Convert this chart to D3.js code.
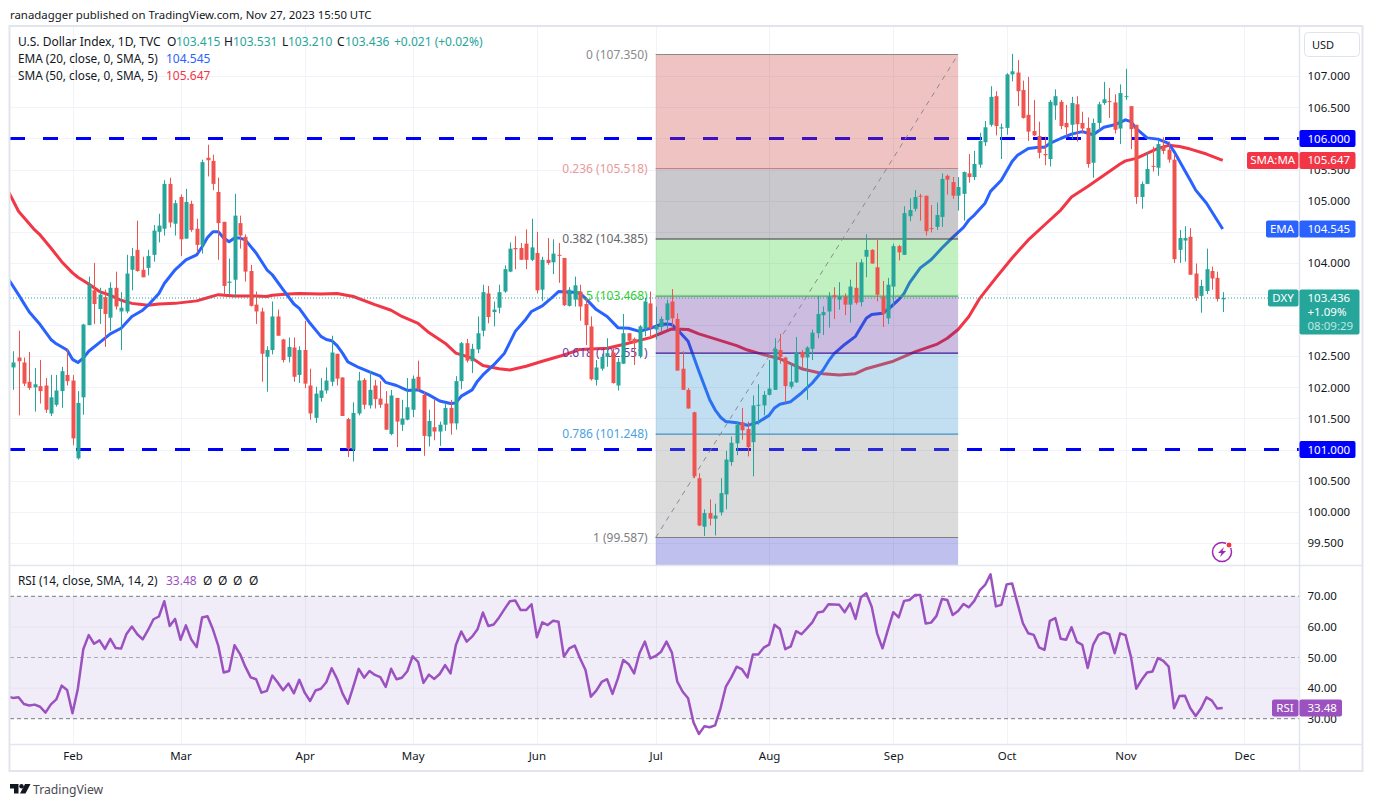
<!DOCTYPE html>
<html>
<head>
<meta charset="utf-8">
<title>DXY</title>
<script src="https://cdn.jsdelivr.net/npm/d3@7"></script>
<style>
    body { margin: 0; background: #fff; }
    text { font-family: "Noto Sans", sans-serif; font-size: 12px; fill: #131722; }
    .axis path, .axis line { display: none; }
    .axis text, .tag-text { font-size: 11.5px; }
</style>
</head>
<body>
<svg id="chart" width="1373" height="807"></svg>
<script>
// Daily candles, Jan 17 to Nov 27 2023
const opens = [
    102.32,102.48,102.40,102.09,102.00,102.02,102.03,101.58,101.72,101.94,
    102.20,102.11,100.86,101.84,103.00,103.56,103.26,103.45,103.12,103.60,
    103.22,103.22,103.89,104.21,103.89,103.92,104.13,104.50,104.55,105.27,
    104.63,105.06,104.39,104.95,104.55,104.29,105.69,105.64,105.14,104.66,
    103.68,103.73,104.64,104.42,103.87,103.33,103.22,102.49,102.60,103.14,
    102.77,102.49,102.64,102.20,102.60,102.03,101.51,101.83,101.95,102.09,
    102.54,102.16,101.49,101.00,101.58,102.12,101.71,102.03,101.82,101.74,
    101.25,101.83,101.40,101.48,101.64,102.17,101.88,101.21,101.36,101.29,
    101.40,101.67,101.42,102.10,102.71,102.42,102.61,102.91,103.51,103.21,
    103.28,103.54,103.86,104.24,104.24,104.31,104.05,104.16,103.57,104.05,
    104.01,104.13,104.08,103.31,103.41,103.54,103.34,102.98,102.12,102.30,
    102.49,102.56,102.03,102.38,102.87,102.78,102.50,102.94,103.35,102.93,
    102.97,103.08,103.38,103.10,102.30,101.96,101.60,100.54,99.76,99.98,
    99.89,99.99,100.28,100.80,101.10,101.44,101.33,101.12,101.71,101.71,
    101.88,101.96,102.60,102.48,102.01,102.08,102.57,102.48,102.62,102.87,
    103.16,103.22,103.48,103.41,103.46,103.33,103.60,103.37,104.10,104.21,
    103.93,103.46,103.11,103.62,104.27,104.13,104.75,104.87,105.08,105.08,
    104.56,104.58,104.74,105.40,105.30,105.08,105.11,105.44,105.38,105.58,
    105.94,106.22,106.68,106.16,106.17,107.03,107.06,106.78,106.38,106.12,
    106.04,105.75,105.67,106.53,106.59,106.25,106.22,106.55,106.25,106.17,
    105.61,106.25,106.57,106.60,106.58,106.16,106.67,106.52,106.22,105.06,
    105.27,105.56,105.53,105.87,105.82,105.66,104.21,104.36,104.42,103.83,
    103.47,103.55,103.87,103.76,103.415
];
const highs = [
    102.58,102.91,102.48,102.57,102.31,102.44,102.15,102.20,102.20,102.33,
    102.62,102.20,101.94,103.02,103.78,104.00,103.60,103.57,103.69,103.86,
    103.53,104.13,104.24,104.68,104.10,104.21,104.61,104.79,105.33,105.37,
    105.01,105.10,105.19,105.00,104.71,105.66,105.90,105.74,105.37,104.66,
    104.07,105.11,104.76,104.46,103.97,103.54,103.28,102.66,103.38,103.25,
    102.78,102.80,102.80,102.66,103.07,102.30,102.01,102.15,102.32,102.83,
    102.54,102.16,101.51,101.76,102.25,102.15,102.26,102.12,102.10,101.94,
    101.96,101.83,101.80,102.15,102.19,102.43,101.94,101.64,101.80,101.45,
    101.75,101.80,102.18,102.73,102.78,102.70,103.14,103.65,103.63,103.38,
    103.65,103.96,104.33,104.43,104.32,104.54,104.71,104.50,104.10,104.40,
    104.38,104.32,104.08,103.61,103.78,103.65,103.43,103.14,102.44,102.54,
    102.79,102.63,102.47,103.18,102.87,102.80,103.00,103.44,103.54,103.30,
    103.14,103.41,103.58,103.19,102.58,101.99,101.61,100.62,100.04,100.20,
    100.13,100.54,100.98,101.21,101.45,101.67,101.45,101.87,102.05,101.94,
    102.44,102.79,102.86,102.49,102.39,102.81,102.60,102.66,102.93,103.47,
    103.30,103.53,103.61,103.69,103.51,103.73,104.01,104.06,104.46,104.22,
    104.37,103.71,103.76,104.31,104.29,104.91,105.04,105.17,105.11,105.08,
    104.93,104.97,105.44,105.42,105.38,105.38,105.47,105.75,105.80,106.09,
    106.28,106.84,106.76,106.24,107.05,107.36,107.26,106.93,106.99,106.62,
    106.27,106.03,106.62,106.79,106.62,106.54,106.67,106.68,106.43,106.34,
    106.32,106.59,106.91,106.81,106.71,106.87,107.12,106.52,106.22,105.31,
    105.78,105.87,105.98,106.02,105.95,105.75,104.53,104.59,104.56,103.99,
    103.73,104.23,103.94,103.86,103.531
];
const lows = [
    101.96,101.55,102.02,101.96,101.61,101.74,101.59,101.54,101.69,101.67,
    102.03,101.07,100.84,101.56,103.00,103.02,103.02,102.65,102.91,103.25,
    102.60,103.19,103.56,103.86,103.77,103.80,104.02,104.33,104.44,104.57,
    104.44,104.11,104.39,104.50,104.16,104.15,105.39,105.17,104.05,103.49,
    103.49,103.46,104.23,103.70,103.30,103.02,102.09,101.93,102.53,102.83,
    102.40,102.40,102.09,102.07,101.99,101.48,101.43,101.77,101.90,102.02,
    102.03,101.54,100.88,100.81,101.55,101.65,101.66,101.66,101.67,101.32,
    101.23,101.04,101.30,101.47,101.52,101.94,100.90,101.05,101.15,101.06,
    101.30,101.24,101.32,101.97,102.40,102.23,102.55,102.82,103.03,102.98,
    103.19,103.52,103.85,103.90,104.05,103.90,104.03,103.51,103.39,103.97,
    103.82,103.68,103.31,103.30,103.30,103.07,102.68,102.11,102.03,102.27,
    102.33,102.06,101.95,102.38,102.72,102.36,102.47,102.82,102.79,102.77,
    102.90,102.94,102.98,102.27,101.96,101.66,100.54,99.77,99.61,99.78,
    99.62,99.94,100.04,100.74,100.91,101.16,100.89,100.57,101.40,101.55,
    101.87,101.96,102.38,101.76,101.98,102.07,102.31,101.80,102.44,102.79,
    102.84,102.96,103.10,103.25,103.16,103.04,103.33,103.30,103.77,103.99,
    103.38,102.97,103.02,103.30,104.04,104.13,104.67,104.83,104.68,104.44,
    104.49,104.53,104.58,105.10,105.03,104.84,104.68,105.29,105.33,105.53,
    105.88,106.19,106.05,105.67,106.06,106.92,106.52,106.32,105.96,106.04,
    105.68,105.57,105.55,106.30,106.15,106.03,105.99,105.95,106.08,105.53,
    105.37,106.13,106.54,106.33,106.08,105.91,106.62,105.83,104.95,104.87,
    105.27,105.47,105.40,105.75,105.61,104.00,104.00,104.02,103.81,103.39,
    103.20,103.50,103.57,103.38,103.21
];
const closes = [
    102.40,102.42,102.06,101.99,102.05,101.94,101.64,101.84,101.95,102.26,
    102.10,101.18,101.75,103.01,103.65,103.34,103.49,103.18,103.60,103.30,
    103.28,103.83,104.11,103.87,103.77,104.11,104.52,104.60,105.27,104.65,
    104.96,104.38,104.98,104.53,104.29,105.62,105.65,105.27,104.64,103.63,
    103.70,104.76,104.44,103.86,103.31,103.22,102.54,102.60,103.14,102.83,
    102.44,102.65,102.17,102.60,102.06,101.58,101.90,101.95,102.11,102.56,
    102.14,101.54,101.01,101.59,102.11,101.72,101.96,101.81,101.72,101.32,
    101.87,101.45,101.50,101.68,102.14,101.97,101.22,101.46,101.29,101.40,
    101.67,101.42,102.10,102.71,102.43,102.62,102.87,103.53,103.13,103.25,
    103.53,103.90,104.23,104.22,104.05,104.05,104.25,103.56,104.05,104.00,
    104.15,104.12,103.32,103.57,103.64,103.30,103.00,102.13,102.32,102.49,
    102.55,102.07,102.41,102.87,102.75,102.71,102.98,103.38,102.95,102.99,
    103.10,103.35,103.11,102.27,101.96,101.66,100.57,99.78,99.98,99.89,
    99.94,100.30,100.84,101.11,101.40,101.31,101.04,101.71,101.72,101.88,
    101.98,102.62,102.49,102.02,102.09,102.56,102.48,102.64,102.88,103.18,
    103.21,103.46,103.45,103.46,103.33,103.62,103.36,104.01,104.21,103.99,
    103.49,103.18,103.65,104.27,104.17,104.80,104.85,105.06,105.07,104.51,
    104.55,104.77,105.35,105.34,105.08,105.22,105.46,105.38,105.59,105.96,
    106.18,106.67,106.20,106.18,107.03,107.08,106.76,106.33,106.11,106.05,
    105.77,105.73,106.59,106.68,106.20,106.18,106.57,106.23,106.16,105.59,
    106.25,106.55,106.63,106.59,106.14,106.73,106.68,106.15,105.06,105.27,
    105.51,105.55,105.91,105.80,105.66,104.06,104.40,104.40,103.81,103.44,
    103.63,103.90,103.75,103.42,103.436
];

// EMA 20 at these candle numbers
const emaIdx = [-1,1,2,3,5,7,8,10,11,12,13,14,16,18,20,22,24,25,27,28,30,32,34,35,36,37,38,39,40,41,42,43,45,47,48,50,52,53,55,57,58,59,60,
    61,62,64,66,68,69,71,73,75,77,79,81,82,83,85,86,87,89,91,93,95,96,98,100,101,103,104,105,106,108,110,112,114,116,
    118,120,121,122,123,125,126,127,129,130,131,132,134,136,138,140,141,142,144,146,148,150,151,152,154,156,158,159,161,162,164,165,166,168,170,172,
    174,176,177,178,180,181,183,185,186,188,190,191,192,194,196,198,200,202,204,206,207,208,210,212,214,215,217,218,219,221,224];
const emaVal = [103.76,103.49,103.35,103.21,103.01,102.77,102.70,102.60,102.45,102.40,102.47,102.58,102.72,102.86,102.95,103.14,103.24,103.32,103.51,103.67,103.89,104.05,104.13,104.26,104.41,104.50,104.50,104.40,104.34,104.40,104.40,104.37,104.16,103.89,103.81,103.57,103.34,103.27,103.03,102.82,102.77,102.75,102.67,
    102.55,102.41,102.32,102.25,102.18,102.08,102.03,101.95,101.96,101.88,101.78,101.74,101.75,101.86,101.96,102.10,102.20,102.36,102.55,102.90,103.10,103.22,103.31,103.46,103.54,103.53,103.53,103.51,103.43,103.25,103.14,102.96,102.95,102.90,
    102.95,103.01,103.02,103.01,102.93,102.74,102.50,102.26,101.80,101.64,101.52,101.45,101.43,101.39,101.44,101.55,101.67,101.73,101.77,101.91,102.07,102.28,102.42,102.54,102.69,102.82,103.11,103.17,103.19,103.25,103.41,103.51,103.68,103.92,104.05,104.24,
    104.41,104.57,104.69,104.77,104.96,105.15,105.33,105.63,105.73,105.84,105.86,105.86,105.92,106.00,106.07,106.11,106.06,106.18,106.22,106.30,106.27,106.16,106.01,105.99,105.92,105.79,105.48,105.33,105.17,104.96,104.545];

// SMA 50, read the same way
const smaIdx = [-1,1,2,4,5,7,9,11,12,14,16,18,20,22,25,27,30,34,36,38,41,44,47,48,51,53,57,60,
    63,67,70,72,75,77,80,82,85,87,90,92,95,98,102,105,110,113,
    118,120,122,125,127,130,134,136,138,142,146,150,153,156,158,163,167,171,173,
    175,177,179,182,185,188,191,194,196,199,202,205,206,208,210,212,214,216,218,221,224];
const smaVal = [105.17,104.83,104.73,104.53,104.45,104.24,104.02,103.84,103.77,103.66,103.54,103.48,103.40,103.35,103.32,103.34,103.35,103.39,103.44,103.49,103.47,103.47,103.46,103.48,103.50,103.51,103.50,103.51,
    103.46,103.33,103.24,103.14,103.03,102.88,102.71,102.55,102.47,102.35,102.30,102.28,102.34,102.42,102.52,102.61,102.63,102.69,
    102.80,102.87,102.94,102.93,102.86,102.78,102.67,102.60,102.55,102.46,102.30,102.22,102.20,102.22,102.30,102.42,102.57,102.69,102.79,
    102.93,103.14,103.43,103.76,104.08,104.37,104.61,104.85,105.06,105.23,105.41,105.59,105.64,105.68,105.76,105.84,105.89,105.87,105.83,105.75,105.647];

// RSI 14, starts one candle left of the first visible candle
const rsiVal = [37.2,
    36.8,37.0,34.8,34.3,34.6,33.9,32.0,34.7,36.3,40.8,
    39.4,31.8,39.9,52.7,57.3,54.5,55.6,52.8,56.1,53.1,
    52.9,57.7,60.1,57.6,55.9,59.0,62.5,63.4,68.4,60.3,
    62.6,55.8,60.5,55.9,53.4,63.1,63.5,59.2,53.8,45.1,
    45.6,54.0,51.2,47.0,43.5,42.9,38.5,39.1,44.1,41.8,
    39.3,41.5,38.3,42.7,38.5,35.8,39.2,39.8,41.9,46.5,
    43.0,38.3,34.9,40.5,46.3,43.4,45.6,44.3,43.6,40.4,
    46.3,42.9,43.4,45.5,50.4,48.6,41.7,44.4,43.0,44.6,
    47.5,44.8,54.1,58.5,55.2,56.8,59.2,64.7,60.3,60.8,
    63.1,65.8,68.4,68.6,65.5,65.5,67.4,56.6,61.5,60.6,
    62.0,61.7,50.3,53.0,53.9,49.7,45.9,37.2,39.2,42.0,
    42.9,38.1,43.2,49.2,47.8,44.8,51.4,55.2,49.7,50.5,
    51.9,55.2,51.6,42.1,38.8,36.7,28.8,25.0,27.5,27.2,
    27.8,33.4,40.5,43.5,47.0,46.1,43.5,51.0,51.0,53.2,
    54.2,60.7,59.3,52.7,53.6,58.6,57.6,59.5,61.5,64.7,
    65.0,67.4,67.3,67.2,64.8,67.7,62.6,69.7,71.0,66.6,
    57.9,53.0,59.0,64.8,63.1,68.5,68.8,70.4,70.4,61.1,
    61.4,63.6,69.1,68.8,63.9,65.2,67.5,66.4,68.5,71.9,
    73.7,77.2,66.7,67.2,73.9,74.2,67.7,61.2,57.9,57.4,
    53.3,52.5,62.0,62.9,56.1,55.8,59.9,55.1,54.1,46.6,
    54.1,57.4,58.2,57.6,51.4,57.9,57.3,50.3,39.8,42.7,
    45.1,45.4,49.8,48.9,47.0,33.4,37.4,37.5,33.4,30.9,
    33.4,37.0,35.9,33.3,33.48
];

// Axis ticks. Grid uses all of them, labels skip the ones under the price tags
const priceTicks = [107,106.5,106,105.5,105,104.5,104,103.5,103,102.5,102,101.5,101,100.5,100,99.5];
const priceLabels = [107,106.5,105.5,105,104,102.5,102,101.5,100.5,100,99.5];
const rsiTicks = [70,60,50,40,30];
const monthIdx = [11,31,54,74,97,119,140,163,184,206,228];
const monthLabels = ['Feb','Mar','Apr','May','Jun','Jul','Aug','Sep','Oct','Nov','Dec'];

// Fibonacci retracement
const fibPrices = [107.35,105.518,104.385,103.468,102.551,101.248,99.587];
const fibLabels = ['0 (107.350)','0.236 (105.518)','0.382 (104.385)','0.5 (103.468)','0.618 (102.551)','0.786 (101.248)','1 (99.587)'];
const fibFills = ['rgb(206,56,56)','rgb(75,72,88)','rgb(50,205,50)','rgb(82,32,152)','rgb(52,148,212)','rgb(135,135,135)','rgb(45,45,198)'];
const fibLines = ['#8a8a8a','#d47a7a','#3a3a44','#4caf50','#3f1a96','#3d94c4','#808080'];
const fibText = ['#8a8a8a','#e89a9a','#666','#2fd02f','#6a3aa8','#4aa3df','#808080'];
const fibFirst = 119, fibLast = 175;
const fibBottomPrice = 94.79; // next level down, cut off by the pane

const hLevels = [106,101];
const lastClose = 103.436, lastEma = 104.545, lastSma = 105.647, lastRsi = 33.48;

const up = '#26a69a', down = '#ef5350', emaColor = '#2962ff', smaColor = '#f23645', rsiColor = '#9b51bf';
const gridColor = '#f0f3fa', borderColor = '#e3e5ee';

// Layout
const paneLeft = 10, paneRight = 1299.5, paneTop = 27, paneBottom = 565, rsiBottom = 744, frameBottom = 771, outerRight = 1363;

const xScale = d3.scaleLinear().domain([0, 224]).range([13.1, 1222.7]);
const yScale = d3.scaleLinear().domain([107.35, 99.587]).range([54.5, 537.5]);
const rsiScale = d3.scaleLinear().domain([70, 30]).range([596.3, 718.7]);

const svg = d3.select('#chart');

svg.append('clipPath').attr('id', 'main-clip').append('rect')
    .attr('x', paneLeft).attr('y', paneTop).attr('width', paneRight - paneLeft).attr('height', paneBottom - paneTop);
svg.append('clipPath').attr('id', 'rsi-clip').append('rect')
    .attr('x', paneLeft).attr('y', paneBottom).attr('width', paneRight - paneLeft).attr('height', rsiBottom - paneBottom);

// Grid
const grid = svg.append('g').attr('stroke', gridColor).attr('stroke-width', 1);
grid.selectAll('.gy').data(priceTicks).enter().append('line')
    .attr('x1', paneLeft).attr('x2', paneRight)
    .attr('y1', d => Math.round(yScale(d)) + 0.5).attr('y2', d => Math.round(yScale(d)) + 0.5);
grid.selectAll('.gx').data(monthIdx).enter().append('line')
    .attr('x1', d => Math.round(xScale(d)) + 0.5).attr('x2', d => Math.round(xScale(d)) + 0.5)
    .attr('y1', paneTop).attr('y2', rsiBottom);

const main = svg.append('g').attr('clip-path', 'url(#main-clip)');

// Horizontal support and resistance lines
main.selectAll('.hline').data(hLevels).enter().append('line')
    .attr('x1', paneLeft).attr('x2', paneRight)
    .attr('y1', d => yScale(d)).attr('y2', d => yScale(d))
    .attr('stroke', '#0000ff').attr('stroke-width', 3).attr('stroke-dasharray', '15 18');

// Moving averages
const lineFn = d3.line().x(d => xScale(d[0])).y(d => yScale(d[1]));
main.append('path').attr('d', lineFn(smaIdx.map((d, i) => [d, smaVal[i]])))
    .attr('fill', 'none').attr('stroke', smaColor).attr('stroke-width', 3).attr('stroke-linejoin', 'round');
main.append('path').attr('d', lineFn(emaIdx.map((d, i) => [d, emaVal[i]])))
    .attr('fill', 'none').attr('stroke', emaColor).attr('stroke-width', 3).attr('stroke-linejoin', 'round');

// Fib zones go over the averages but under the candles
const fibEdges = fibPrices.concat([fibBottomPrice]);
main.selectAll('.fib-zone').data(fibFills).enter().append('rect')
    .attr('x', xScale(fibFirst)).attr('width', xScale(fibLast) - xScale(fibFirst))
    .attr('y', (d, i) => yScale(fibEdges[i]))
    .attr('height', (d, i) => yScale(fibEdges[i + 1]) - yScale(fibEdges[i]))
    .attr('fill', d => d).attr('fill-opacity', 0.3);
main.selectAll('.fib-line').data(fibPrices).enter().append('line')
    .attr('x1', xScale(fibFirst)).attr('x2', xScale(fibLast))
    .attr('y1', d => yScale(d)).attr('y2', d => yScale(d))
    .attr('stroke', (d, i) => fibLines[i]).attr('stroke-width', 1.2);
main.append('line')
    .attr('x1', xScale(fibFirst)).attr('y1', yScale(fibPrices[6]))
    .attr('x2', xScale(fibLast)).attr('y2', yScale(fibPrices[0]))
    .attr('stroke', '#8a8a90').attr('stroke-dasharray', '5 5');
main.selectAll('.fib-label').data(fibLabels).enter().append('text')
    .attr('x', xScale(fibFirst) - 8)
    .attr('y', (d, i) => yScale(fibPrices[i]))
    .attr('dy', '0.35em').attr('text-anchor', 'end')
    .style('fill', (d, i) => fibText[i])
    .text(d => d);

// Candles
const candles = main.selectAll('.candle').data(closes).enter().append('g').attr('class', 'candle');
const candleColor = (d, i) => d >= opens[i] ? up : down;
candles.append('line')
    .attr('x1', (d, i) => Math.round(xScale(i)) + 0.5).attr('x2', (d, i) => Math.round(xScale(i)) + 0.5)
    .attr('y1', (d, i) => yScale(highs[i])).attr('y2', (d, i) => yScale(lows[i]))
    .attr('stroke', candleColor);
candles.append('rect')
    .attr('x', (d, i) => Math.round(xScale(i)) - 1.5).attr('width', 4)
    .attr('y', (d, i) => yScale(Math.max(d, opens[i])))
    .attr('height', (d, i) => Math.max(1, Math.abs(yScale(d) - yScale(opens[i]))))
    .attr('fill', candleColor);

// Last price dotted line
main.append('line')
    .attr('x1', paneLeft).attr('x2', paneRight)
    .attr('y1', yScale(lastClose)).attr('y2', yScale(lastClose))
    .attr('stroke', up).attr('stroke-dasharray', '1 2');

// RSI pane
const rsiPane = svg.append('g').attr('clip-path', 'url(#rsi-clip)');
rsiPane.append('rect')
    .attr('x', paneLeft).attr('width', paneRight - paneLeft)
    .attr('y', rsiScale(70)).attr('height', rsiScale(30) - rsiScale(70))
    .attr('fill', '#7e57c2').attr('fill-opacity', 0.11);
rsiPane.selectAll('.rsi-grid').data([60, 40]).enter().append('line')
    .attr('x1', paneLeft).attr('x2', paneRight)
    .attr('y1', d => rsiScale(d)).attr('y2', d => rsiScale(d))
    .attr('stroke', '#e6e3f0');
rsiPane.selectAll('.rsi-band').data([70, 50, 30]).enter().append('line')
    .attr('x1', paneLeft).attr('x2', paneRight)
    .attr('y1', d => rsiScale(d)).attr('y2', d => rsiScale(d))
    .attr('stroke', '#787b86').attr('stroke-opacity', d => d === 50 ? 0.6 : 1)
    .attr('stroke-dasharray', '4 3');
rsiPane.append('path')
    .attr('d', d3.line().x((d, i) => xScale(i - 1)).y(d => rsiScale(d))(rsiVal))
    .attr('fill', 'none').attr('stroke', rsiColor).attr('stroke-width', 2.5).attr('stroke-linejoin', 'round');

// Frame and separators
svg.append('rect')
    .attr('x', paneLeft - 0.5).attr('y', 26).attr('width', outerRight - paneLeft).attr('height', frameBottom - 26)
    .attr('fill', 'none').attr('stroke', borderColor).attr('stroke-width', 2);
svg.selectAll('.sep').data([paneBottom, rsiBottom]).enter().append('line')
    .attr('x1', paneLeft).attr('x2', outerRight)
    .attr('y1', d => d + 0.5).attr('y2', d => d + 0.5)
    .attr('stroke', borderColor).attr('stroke-width', 1.5);
svg.append('line')
    .attr('x1', paneRight).attr('x2', paneRight).attr('y1', 26).attr('y2', frameBottom)
    .attr('stroke', borderColor).attr('stroke-width', 1.5);

// Axes
svg.append('g').attr('class', 'axis')
    .attr('transform', `translate(${paneRight},0)`)
    .call(d3.axisRight(yScale).tickValues(priceLabels).tickFormat(d3.format('.3f')).tickSize(0).tickPadding(8));
svg.append('g').attr('class', 'axis')
    .attr('transform', `translate(${paneRight},0)`)
    .call(d3.axisRight(rsiScale).tickValues(rsiTicks).tickFormat(d3.format('.2f')).tickSize(0).tickPadding(8));
svg.append('g').attr('class', 'axis')
    .attr('transform', `translate(0,${rsiBottom})`)
    .call(d3.axisBottom(xScale).tickValues(monthIdx).tickFormat((d, i) => monthLabels[i]).tickSize(0).tickPadding(8));

// Price tags on the right axis
function tag(x, y, w, h, color, label, textX, anchor) {
    svg.append('rect').attr('x', x).attr('y', y).attr('width', w).attr('height', h).attr('rx', 2).attr('fill', color);
    svg.append('text').attr('class', 'tag-text').attr('x', textX).attr('y', y + 8.5).attr('dy', '0.35em')
        .attr('text-anchor', anchor || 'start').style('fill', '#fff').text(label);
}
tag(paneRight, yScale(106) - 8.5, 56, 17, '#0000ff', '106.000', 1307.5);
tag(paneRight, yScale(101) - 8.5, 56, 17, '#0000ff', '101.000', 1307.5);
tag(1247, yScale(lastSma) - 8.5, 51.5, 17, smaColor, 'SMA:MA', 1272.7, 'middle');
tag(paneRight, yScale(lastSma) - 8.5, 56, 17, smaColor, '105.647', 1307.5);
tag(1266, yScale(lastEma) - 8.5, 32.5, 17, emaColor, 'EMA', 1282, 'middle');
tag(paneRight, yScale(lastEma) - 8.5, 56, 17, emaColor, '104.545', 1307.5);
tag(1268, 289.5, 30.5, 17, up, 'DXY', 1283, 'middle');
tag(paneRight, 289.5, 60, 45, up, '103.436', 1307.5);
svg.append('text').attr('class', 'tag-text').attr('x', 1307.5).attr('y', 316).style('fill', '#fff').text('+1.09%');
svg.append('text').attr('class', 'tag-text').attr('x', 1307.5).attr('y', 330).style('fill', '#bfe6e2').text('08:09:29');
tag(1272, rsiScale(lastRsi) - 8.5, 26.5, 17, rsiColor, 'RSI', 1285, 'middle');
tag(paneRight, rsiScale(lastRsi) - 8.5, 42.5, 17, rsiColor, '33.48', 1307.5);

// Currency button
svg.append('rect').attr('x', 1304.5).attr('y', 32.5).attr('width', 55).attr('height', 24).attr('rx', 4)
    .attr('fill', '#fff').attr('stroke', '#e0e3eb');
svg.append('text').attr('x', 1312).attr('y', 48.5).style('font-size', '11px').text('USD');

// Header texts, each chunk placed on its own
const titleParts = [
    ['U.S. Dollar Index, 1D, TVC', 18, '#131722'], ['O', 167, '#131722'], ['103.415', 176, up],
    ['H', 224, '#131722'], ['103.531', 233, up], ['L', 282, '#131722'], ['103.210', 288, up],
    ['C', 337, '#131722'], ['103.436', 345, up], ['+0.021 (+0.02%)', 394, up]
];
svg.append('text').attr('x', 10).attr('y', 19).style('font-size', '11.4px')
    .text('ranadagger published on TradingView.com, Nov 27, 2023 15:50 UTC');
svg.selectAll('.title').data(titleParts).enter().append('text')
    .attr('x', d => d[1]).attr('y', 46).style('fill', d => d[2]).text(d => d[0]);
svg.append('text').attr('x', 18).attr('y', 63).style('font-size', '11.8px').text('EMA (20, close, 0, SMA, 5)');
svg.append('text').attr('x', 166).attr('y', 63).style('fill', emaColor).text('104.545');
svg.append('text').attr('x', 18).attr('y', 80).style('font-size', '11.8px').text('SMA (50, close, 0, SMA, 5)');
svg.append('text').attr('x', 166).attr('y', 80).style('fill', smaColor).text('105.647');

svg.append('text').attr('x', 18).attr('y', 585).style('font-size', '11.8px').text('RSI (14, close, SMA, 14, 2)');
svg.append('text').attr('x', 166).attr('y', 585).style('fill', rsiColor).text('33.48');
svg.selectAll('.na').data([203, 218, 233, 249]).enter().append('text')
    .attr('x', d => d).attr('y', 585).text('Ø');

// Flash icon
const flash = svg.append('g').attr('transform', 'translate(1222,552)');
flash.append('circle').attr('r', 9.5).attr('fill', 'none').attr('stroke', '#9c27b0').attr('stroke-width', 1.5);
flash.append('path').attr('d', 'M2,-5 L-4,1 H-0.5 L-2,5 L4,-1 H0.5 Z').attr('fill', '#9c27b0');
flash.append('circle').attr('cx', 7).attr('cy', -7).attr('r', 3).attr('fill', '#f23645').attr('stroke', '#fff');

// TradingView mark
const logo = svg.append('g').attr('transform', 'translate(10,784)').attr('fill', '#131722');
logo.append('path').attr('d', 'M0,0 H8.5 V9.5 H4 V4.5 H0 Z');
logo.append('circle').attr('cx', 11.5).attr('cy', 2.2).attr('r', 2.2);
logo.append('path').attr('d', 'M15,0 H20.5 L15.5,9.5 H10 Z');
svg.append('text').attr('x', 33).attr('y', 793.5).style('font-size', '12.2px').style('fill', '#4a4a50').text('TradingView');
</script>
</body>
</html>
